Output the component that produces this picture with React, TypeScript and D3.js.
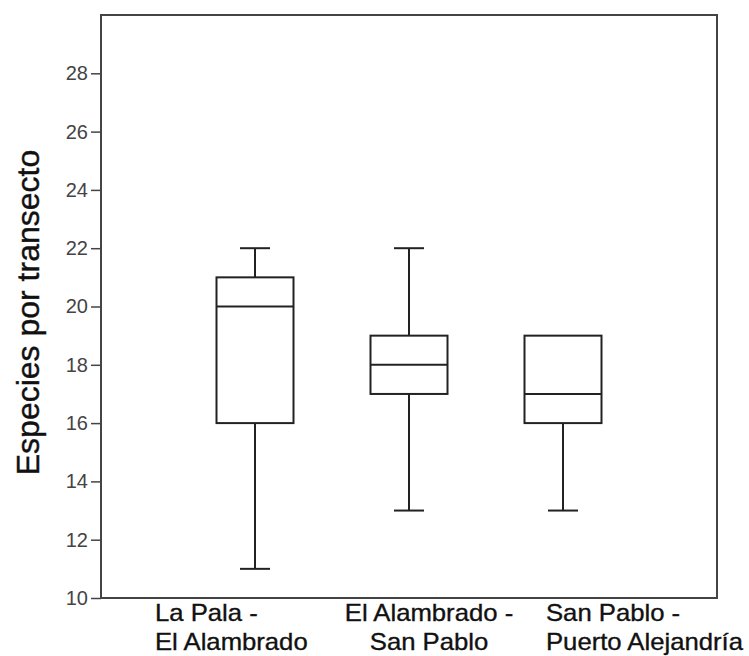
import { useRef, useEffect } from 'react'
import * as d3 from 'd3'

// categories (two-line labels) and box statistics
const categories = ['La Pala - El Alambrado', 'El Alambrado - San Pablo', 'San Pablo - Puerto Alejandría']
const labelLines = [
  ['La Pala -', 'El Alambrado'],
  ['El Alambrado -', 'San Pablo'],
  ['San Pablo -', 'Puerto Alejandría'],
]
const whiskerLow = [11, 13, 13]
const q1 = [16, 17, 16]
const median = [20, 18, 17]
const q3 = [21, 19, 19]
const whiskerHigh = [22, 22, 19]
const yTicks = [10, 12, 14, 16, 18, 20, 22, 24, 26, 28]

const W = 749
const H = 656
const margin = { top: 15, right: 32, bottom: 58, left: 101 }

// how each tick label sits relative to the category centre
const labelAnchor = [
  { anchor: 'start', dx: -100 },
  { anchor: 'middle', dx: 20 },
  { anchor: 'start', dx: -17 },
]

export default function App() {
  const svgRef = useRef<SVGSVGElement>(null)

  useEffect(() => {
    if (!svgRef.current) return
    const svg = d3.select(svgRef.current)
    svg.selectAll('*').remove()

    const x = d3.scalePoint<string>()
      .domain(categories)
      .range([margin.left, W - margin.right])
      .padding(1)

    const y = d3.scaleLinear()
      .domain([10, 30])
      .range([H - margin.bottom, margin.top])

    const boxW = x.step() * 0.5
    const capW = 30
    const ink = '#222'
    const font = 'Liberation Sans, Arial, sans-serif'

    // frame
    svg.append('rect')
      .attr('x', margin.left)
      .attr('y', margin.top)
      .attr('width', W - margin.left - margin.right)
      .attr('height', H - margin.top - margin.bottom)
      .attr('fill', 'white')
      .attr('stroke', '#444')
      .attr('stroke-width', 2)

    // y axis
    const yAxis = d3.axisLeft(y)
      .tickValues(yTicks)
      .tickSize(10)
      .tickPadding(3)
      .tickFormat(d => String(d))

    const gy = svg.append('g')
      .attr('transform', `translate(${margin.left},0)`)
      .call(yAxis)
    gy.select('.domain').remove()
    gy.selectAll('line').attr('stroke', '#444').attr('stroke-width', 1.5)
    gy.selectAll('text')
      .attr('font-family', font)
      .attr('font-size', 20)
      .attr('fill', '#444')

    // boxes
    const rows = categories.map((c, i) => ({
      c, lo: whiskerLow[i], q1: q1[i], med: median[i], q3: q3[i], hi: whiskerHigh[i],
    }))

    const g = svg.append('g')
      .attr('stroke', ink)
      .attr('stroke-width', 2)
      .attr('fill', 'none')

    rows.forEach(d => {
      const cx = x(d.c) as number
      // whiskers
      if (d.hi > d.q3) {
        g.append('line').attr('x1', cx).attr('x2', cx).attr('y1', y(d.q3)).attr('y2', y(d.hi))
        g.append('line').attr('x1', cx - capW / 2).attr('x2', cx + capW / 2).attr('y1', y(d.hi)).attr('y2', y(d.hi))
      }
      if (d.lo < d.q1) {
        g.append('line').attr('x1', cx).attr('x2', cx).attr('y1', y(d.q1)).attr('y2', y(d.lo))
        g.append('line').attr('x1', cx - capW / 2).attr('x2', cx + capW / 2).attr('y1', y(d.lo)).attr('y2', y(d.lo))
      }
      g.append('rect')
        .attr('x', cx - boxW / 2)
        .attr('y', y(d.q3))
        .attr('width', boxW)
        .attr('height', y(d.q1) - y(d.q3))
        .attr('fill', 'white')
      g.append('line')
        .attr('x1', cx - boxW / 2).attr('x2', cx + boxW / 2)
        .attr('y1', y(d.med)).attr('y2', y(d.med))
    })

    // category labels
    const base = H - margin.bottom
    categories.forEach((c, i) => {
      const cx = (x(c) as number) + labelAnchor[i].dx
      labelLines[i].forEach((line, j) => {
        svg.append('text')
          .attr('transform', `translate(${cx},${base + 23 + j * 29}) scale(1.07,1)`)
          .attr('text-anchor', labelAnchor[i].anchor)
          .attr('font-family', font)
          .attr('font-size', 24)
          .attr('fill', '#111')
          .attr('stroke', '#111')
          .attr('stroke-width', 0.35)
          .text(line)
      })
    })

    // y title
    svg.append('text')
      .attr('transform', `translate(39,${(margin.top + H - margin.bottom) / 2 + 6}) rotate(-90)`)
      .attr('text-anchor', 'middle')
      .attr('font-family', font)
      .attr('font-size', 32)
      .attr('fill', '#111')
      .attr('stroke', '#111')
      .attr('stroke-width', 0.4)
      .text('Especies por transecto')
  }, [])

  return (
    <div style={{ position: 'absolute', left: 0, top: 0 }}>
      <svg ref={svgRef} width={W} height={H} style={{ display: 'block', background: 'white' }} />
    </div>
  )
}
